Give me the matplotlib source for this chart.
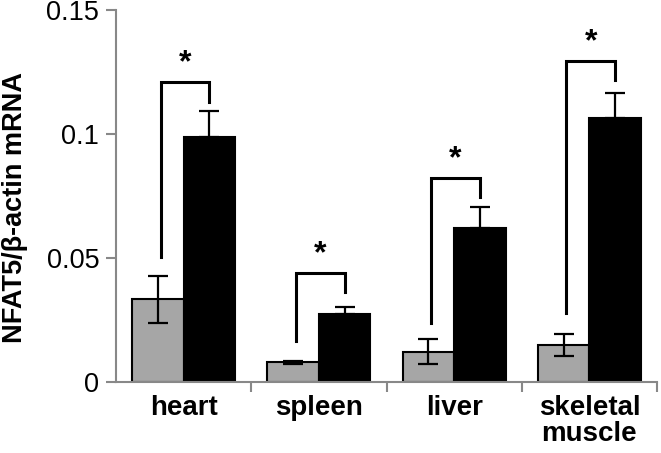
import matplotlib.pyplot as plt
import numpy as np

plt.rcParams['font.family'] = ['Liberation Sans', 'DejaVu Sans']

tissues = ['heart', 'spleen', 'liver', 'skeletal\nmuscle']
control = [0.0333, 0.0079, 0.0122, 0.0149]
control_err = [0.0095, 0.0007, 0.0050, 0.0043]
treated = [0.0989, 0.0273, 0.0620, 0.1063]
treated_err = [0.0105, 0.0030, 0.0085, 0.0104]
# bracket: bottom of left leg, top, bottom of right leg
br_left = [0.0505, 0.0167, 0.0237, 0.0277]
br_top = [0.1211, 0.0441, 0.0821, 0.1296]
br_right = [0.1130, 0.0362, 0.0747, 0.1218]

fig = plt.figure(figsize=(6.61, 4.53), dpi=100)
ax = fig.add_axes([0.1755, 0.1567, 0.8185, 0.8213])

x = np.arange(len(tissues))
w = 0.38
ax.bar(x - w/2, control, w, color='#a6a6a6', edgecolor='black', linewidth=1.5, zorder=2)
ax.bar(x + w/2, treated, w, color='black', edgecolor='black', linewidth=1.5, zorder=2)
ax.errorbar(x - w/2, control, yerr=control_err, fmt='none', ecolor='black',
            elinewidth=1.6, capsize=7, capthick=1.6, zorder=3)
ax.errorbar(x + w/2, treated, yerr=[[0]*4, treated_err], fmt='none', ecolor='black',
            elinewidth=1.6, capsize=7, capthick=1.6, zorder=3)

for i in range(len(tissues)):
    xl, xr = x[i] - w/2 + 0.02, x[i] + w/2
    ax.plot([xl, xl, xr, xr], [br_left[i], br_top[i], br_top[i], br_right[i]],
            color='black', lw=2.2, solid_joinstyle='miter', zorder=3)
    ax.text((xl + xr)/2, br_top[i] + 0.0015, '*', ha='center', va='bottom',
            fontsize=23, fontweight='bold')

ax.set_xlim(-0.5, 3.5)
ax.set_ylim(0, 0.15)
ax.set_yticks([0, 0.05, 0.1, 0.15])
ax.set_yticklabels(['0', '0.05', '0.1', '0.15'], fontsize=19.5)
ax.set_xticks(x)
ax.set_xticklabels(tissues, fontsize=20, fontweight='bold', linespacing=1.0)
ax.set_xticks([0.5, 1.5, 2.5, 3.5], minor=True)
ax.tick_params(axis='x', which='major', length=0, pad=9)
ax.tick_params(axis='x', which='minor', length=7, width=1.5, color='#888888')
ax.tick_params(axis='y', length=7, width=1.5, color='#888888', pad=5)
ax.set_ylabel('NFAT5/β-actin mRNA', fontsize=19.5, fontweight='bold')
ax.yaxis.set_label_coords(-0.163, 0.468)

for s in ['top', 'right']:
    ax.spines[s].set_visible(False)
for s in ['left', 'bottom']:
    ax.spines[s].set_color('#888888')
    ax.spines[s].set_linewidth(1.5)

fig.savefig('out.png', dpi=100)
